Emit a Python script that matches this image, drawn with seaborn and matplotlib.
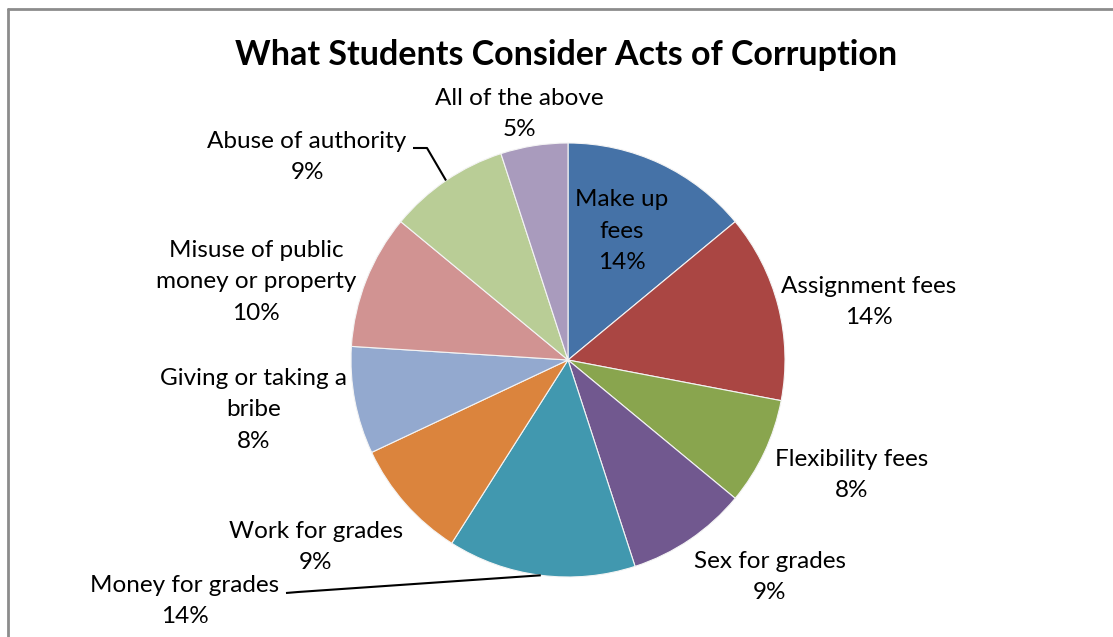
import matplotlib
matplotlib.use("Agg")
import matplotlib.pyplot as plt
import numpy as np
import seaborn as sns

# Survey results: share of students naming each act as corruption (%)
categories = [
    "Make up\nfees",
    "Assignment fees",
    "Flexibility fees",
    "Sex for grades",
    "Money for grades",
    "Work for grades",
    "Giving or taking a\nbribe",
    "Misuse of public\nmoney or property",
    "Abuse of authority",
    "All of the above",
]
shares = [14, 14, 8, 9, 14, 9, 8, 10, 9, 5]

slice_colors = [
    "#4572A7", "#AA4643", "#89A54E", "#71588F", "#4198AF",
    "#DB843D", "#93A9CF", "#D19392", "#B9CD96", "#A99BBD",
]

sns.set_theme(style="white")
plt.rcParams["font.family"] = ["Lato", "DejaVu Sans"]

W, H = 1113, 637
fig = plt.figure(figsize=(W / 100, H / 100), dpi=100)
ax = fig.add_axes([0, 0, 1, 1])

# pixel-like canvas with y growing downward
cx, cy, r = 568, 360, 217
palette = sns.color_palette(slice_colors)
wedges, _ = ax.pie(
    shares,
    colors=palette,
    startangle=-90,
    counterclock=True,
    center=(cx, cy),
    radius=r,
    frame=True,
    wedgeprops=dict(edgecolor="#f4f4f4", linewidth=0.8),
)
ax.set_xlim(0, W)
ax.set_ylim(H, 0)
ax.set_aspect("auto")
ax.axis("off")

# label anchor points (text block centres) and leader-line elbows
label_pos = [
    (622, 231), (869, 302), (852, 475), (770, 577), (185, 601),
    (316, 547), (254, 410), (256, 282), (307, 157), (519, 114),
]
leaders = {4: (286, 593), 8: (413, 148)}
elbows = {4: (298, 592), 8: (427, 148)}

label_fs = 17.5
for i, (w, name, val) in enumerate(zip(wedges, categories, shares)):
    tx, ty = label_pos[i]
    ax.text(tx, ty, f"{name}\n{val}%", ha="center", va="center",
            fontsize=label_fs, color="black", linespacing=1.6)
    if i in leaders:
        mid = np.deg2rad((w.theta1 + w.theta2) / 2)
        px, py = cx + r * np.cos(mid), cy + r * np.sin(mid)
        sx, sy = leaders[i]
        ex, ey = elbows[i]
        ax.plot([sx, ex, px], [sy, ey, py], color="black", lw=1.5,
                solid_capstyle="butt")

ax.text(566, 55, "What Students Consider Acts of Corruption", ha="center",
        va="center", fontsize=24.5, fontweight="bold", color="black")

# chart-area frame (top and left edges)
ax.plot([8, W], [9, 9], color="#8c8c8c", lw=2, clip_on=False)
ax.plot([8, 8], [9, H], color="#8c8c8c", lw=2, clip_on=False)

fig.savefig("out.png", dpi=100, facecolor="white")
